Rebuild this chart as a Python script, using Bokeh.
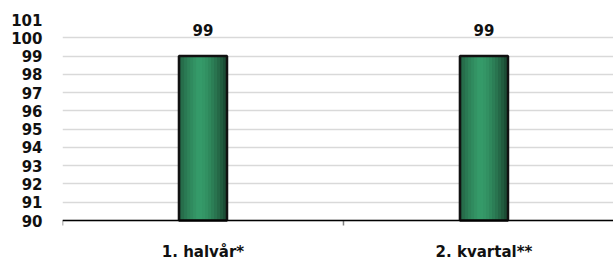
import numpy as np
from bokeh.plotting import figure
from bokeh.models import FixedTicker, ColumnDataSource, Range1d, Span
from bokeh.core.properties import value
from bokeh.embed import file_html
from bokeh.resources import INLINE

categories = ["1. halvår*", "2. kvartal**"]
values = [99, 99]
y_ticks = list(range(90, 102))
y_min, y_max = 90, 101

FONT = "DejaVu Sans"
cat_x = np.arange(len(categories)) + 0.5
boundaries = np.arange(len(categories) + 1)
bar_w = 0.171

# frame extends below the value axis so the category labels sit inside it
TOP, BOTTOM_AXIS, H = 19, 220, 259
px_per_unit = (BOTTOM_AXIS - TOP) / (y_max - y_min)
y_start = y_min - (H - BOTTOM_AXIS) / px_per_unit

p = figure(width=613, height=H, output_backend="svg", toolbar_location=None,
           x_range=Range1d(0, 1.961), y_range=Range1d(y_start, y_max),
           min_border_left=62, min_border_right=0, min_border_top=TOP, min_border_bottom=0)
p.outline_line_color = None
p.background_fill_color = "white"
p.border_fill_color = "white"
p.xaxis.visible = False

p.ygrid.ticker = FixedTicker(ticks=y_ticks)
p.ygrid.grid_line_color = "#d9d9d9"
p.ygrid.grid_line_width = 1.5
p.xgrid.grid_line_color = None

# gradient-like bar fill via strips
N = 16
def lerp(c1, c2, t):
    return "#%02x%02x%02x" % tuple(int(round(a + (b - a) * t)) for a, b in zip(c1, c2))
edge_l = (0x1c, 0x4e, 0x36)
edge_r = (0x1a, 0x46, 0x30)
center = (0x36, 0x9c, 0x6a)
peak = 0.42
for i in range(N):
    f = (i + 0.5) / N
    if f < peak:
        t = (f / peak) ** 0.6
        col = lerp(edge_l, center, t)
    else:
        t = ((f - peak) / (1 - peak)) ** 1.6
        col = lerp(center, edge_r, t)
    xs = cat_x - bar_w / 2 + f * bar_w
    p.vbar(x=xs, top=values, bottom=y_min, width=bar_w / N * 1.6,
           fill_color=col, line_color=None)

p.vbar(x=cat_x, top=values, bottom=y_min, width=bar_w, fill_color=None,
       line_color="#111111", line_width=2.5)

# category axis line and boundary ticks
p.add_layout(Span(location=y_min, dimension="width", line_color="black", line_width=1.5))
tick_len = 5 / px_per_unit
p.segment(x0=boundaries, y0=[y_min] * len(boundaries), x1=boundaries,
          y1=[y_min - tick_len] * len(boundaries), line_color="#808080", line_width=1.5)

# value labels
src = ColumnDataSource(dict(x=cat_x, y=values, t=[str(v) for v in values]))
p.text(x="x", y="y", text="t", source=src, text_align="center",
       text_baseline="alphabetic", y_offset=-26,
       text_font=value(FONT), text_font_style="bold", text_font_size="15px",
       text_color="#111111")

# category labels
cat_src = ColumnDataSource(dict(x=cat_x, y=[y_min] * len(categories), t=categories))
p.text(x="x", y="y", text="t", source=cat_src, text_align="center",
       text_baseline="top", y_offset=22,
       text_font=value(FONT), text_font_style="bold", text_font_size="15px",
       text_color="#111111")

# y axis
p.yaxis.ticker = FixedTicker(ticks=y_ticks)
p.yaxis.axis_line_color = None
p.yaxis.major_tick_line_color = None
p.yaxis.minor_tick_line_color = None
p.yaxis.major_tick_out = 0
p.yaxis.minor_tick_out = 0
p.yaxis.major_label_standoff = 20
p.yaxis.major_label_text_font = FONT
p.yaxis.major_label_text_font_style = "bold"
p.yaxis.major_label_text_font_size = "15px"
p.yaxis.major_label_text_color = "#111111"

open("out.html", "w").write(file_html(p, INLINE))
